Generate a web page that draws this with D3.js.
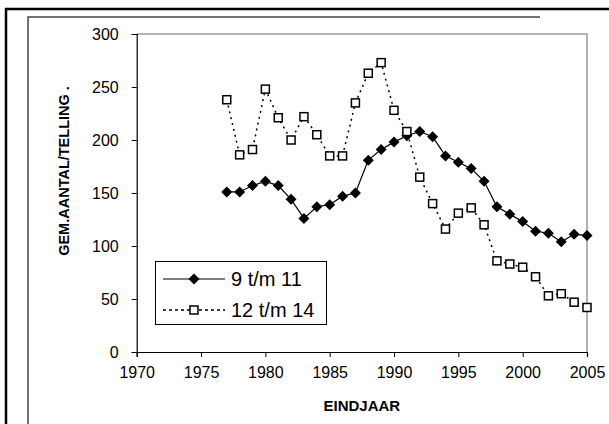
<!DOCTYPE html>
<html><head><meta charset="utf-8">
<script src="https://cdn.jsdelivr.net/npm/d3@7"></script>
<style>html,body{margin:0;padding:0;background:#fff;}svg{display:block;}text{font-family:"Liberation Sans",Arial,sans-serif;fill:#000;}</style>
</head><body>
<svg id="chart" width="609" height="424"></svg>
<script>
const years = [1977,1978,1979,1980,1981,1982,1983,1984,1985,1986,1987,1988,1989,1990,1991,1992,1993,1994,1995,1996,1997,1998,1999,2000,2001,2002,2003,2004,2005];
const series9to11 = [151,151,157,161,157,144,126,137,139,147,150,181,191,198,204,208,203,185,179,173,161,137,130,123,114,112,104,111,110];
const series12to14 = [238,186,191,248,221,200,222,205,185,185,235,263,273,228,208,165,140,116,131,136,120,86,83,80,71,53,55,47,42];
const seriesNames = ["9 t/m 11","12 t/m 14"];
const xTicks = [1970,1975,1980,1985,1990,1995,2000,2005];
const yTicks = [0,50,100,150,200,250,300];
const xTitle = "EINDJAAR";
const yTitle = "GEM.AANTAL/TELLING .";

const svg = d3.select("#chart");
const x = d3.scaleLinear().domain([1970,2005]).range([136.7,587]);
const y = d3.scaleLinear().domain([0,300]).range([352,34]);

// frames
svg.append("path").attr("d","M6,424 V9 H609").attr("fill","none").attr("stroke","#000").attr("stroke-width",2.5);
svg.append("path").attr("d","M28,424 V17 H540").attr("fill","none").attr("stroke","#444").attr("stroke-width",1.5);

// plot area border (top/right gray)
svg.append("path").attr("d",`M${x(1970)},${y(300)} H${x(2005)} V${y(0)}`).attr("fill","none").attr("stroke","#999").attr("stroke-width",1.5);

// axes
const yAxis = svg.append("g").attr("transform",`translate(${x(1970)},0)`)
  .call(d3.axisLeft(y).tickValues(yTicks).tickSize(5).tickPadding(13).tickFormat(d3.format("d")));
const xAxis = svg.append("g").attr("transform",`translate(0,${y(0)})`)
  .call(d3.axisBottom(x).tickValues(xTicks).tickSize(5).tickPadding(10).tickFormat(d3.format("d")));
[yAxis,xAxis].forEach(g=>{
  g.select(".domain").attr("stroke","#000").attr("stroke-width",1.2);
  g.selectAll(".tick line").attr("stroke","#000");
  g.selectAll("text").style("font-family",'"Liberation Sans",Arial,sans-serif').attr("font-size",16).attr("fill","#000");
});

// titles
svg.append("text").attr("x",(x(1970)+x(2005))/2).attr("y",411).attr("text-anchor","middle")
  .attr("font-size",15).attr("font-weight","bold").text(xTitle);
svg.append("text").attr("transform",`translate(69,171) rotate(-90)`).attr("text-anchor","middle")
  .attr("font-size",14.5).attr("font-weight","bold").text(yTitle);

// lines
const d1 = years.map((yr,i)=>[yr,series9to11[i]]);
const d2 = years.map((yr,i)=>[yr,series12to14[i]]);
const line = d3.line().x(d=>x(d[0])).y(d=>y(d[1]));
svg.append("path").datum(d2).attr("d",line).attr("fill","none").attr("stroke","#000").attr("stroke-width",1.5).attr("stroke-dasharray","2,4");
svg.append("path").datum(d1).attr("d",line).attr("fill","none").attr("stroke","#000").attr("stroke-width",1.2);

const diamond = s=>`M0,${-s} L${s},0 L0,${s} L${-s},0 Z`;
svg.append("g").selectAll("path").data(d1).join("path")
  .attr("transform",d=>`translate(${x(d[0])},${y(d[1])})`).attr("d",diamond(5.5)).attr("fill","#000");
svg.append("g").selectAll("rect").data(d2).join("rect")
  .attr("x",d=>x(d[0])-4).attr("y",d=>y(d[1])-4).attr("width",8).attr("height",8)
  .attr("fill","#fff").attr("stroke","#000").attr("stroke-width",1.5);

// legend
const lg = svg.append("g");
lg.append("rect").attr("x",155.5).attr("y",261.5).attr("width",171).attr("height",63).attr("fill","#fff").attr("stroke","#000").attr("stroke-width",1);
const ly = [279,310];
lg.append("line").attr("x1",163).attr("x2",225).attr("y1",ly[0]).attr("y2",ly[0]).attr("stroke","#000").attr("stroke-width",1.2);
lg.append("path").attr("transform",`translate(194,${ly[0]})`).attr("d",diamond(5.5)).attr("fill","#000");
lg.append("line").attr("x1",163).attr("x2",225).attr("y1",ly[1]).attr("y2",ly[1]).attr("stroke","#000").attr("stroke-width",1.5).attr("stroke-dasharray","3,3");
lg.append("rect").attr("x",190).attr("y",ly[1]-4).attr("width",8).attr("height",8).attr("fill","#fff").attr("stroke","#000").attr("stroke-width",1.5);
lg.selectAll("text.lab").data(seriesNames).join("text").attr("class","lab")
  .attr("x",231).attr("y",(d,i)=>ly[i]+7).attr("font-size",20).text(d=>d);
</script>
</body></html>
